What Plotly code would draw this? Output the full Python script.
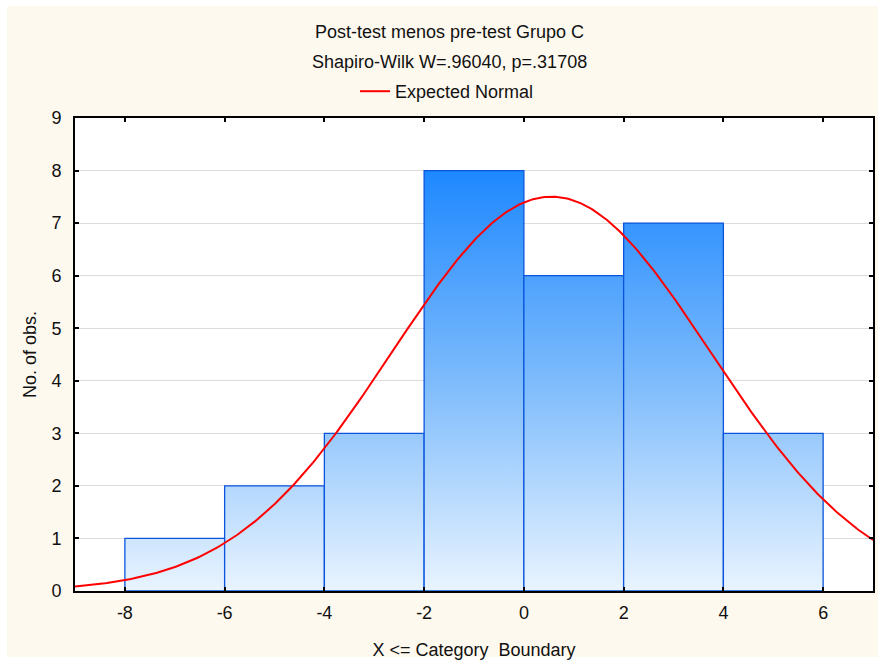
import numpy as np
import plotly.graph_objects as go

# ---- data ----
bin_left = [-8, -6, -4, -2, 0, 2, 4]
bin_right = [-6, -4, -2, 0, 2, 4, 6]
counts = [1, 2, 3, 8, 6, 7, 3]
x_ticks = [-8, -6, -4, -2, 0, 2, 4, 6]
x_tick_labels = ["-8", "-6", "-4", "-2", "0", "2", "4", "6"]
y_ticks = [0, 1, 2, 3, 4, 5, 6, 7, 8, 9]

# expected normal fit parameters
normal_mean = 0.55
normal_sd = 3.19
bin_width = 2

title_1 = "Post-test menos pre-test Grupo C"
title_2 = "Shapiro-Wilk W=.96040, p=.31708"

FONT = "Liberation Sans, Arial, sans-serif"
FS = 18
CREAM = "#FEF9EF"

fig = go.Figure()

grad = dict(type="vertical", start=0, stop=max(counts),
            colorscale=[[0, "#E9F4FF"], [0.5, "#7DBBFC"], [1, "#1E88FF"]])

for l, r, c in zip(bin_left, bin_right, counts):
    fig.add_trace(go.Scatter(
        x=[l, l, r, r, l], y=[0, c, c, 0, 0],
        mode="lines", fill="toself", fillgradient=grad,
        line=dict(color="#0A55DC", width=1.3),
        showlegend=False, hoverinfo="skip"))

n_total = sum(counts)
xs = np.linspace(-9, 7, 400)
ys = n_total * bin_width / (normal_sd * np.sqrt(2 * np.pi)) * np.exp(-0.5 * ((xs - normal_mean) / normal_sd) ** 2)
fig.add_trace(go.Scatter(x=xs, y=ys, mode="lines", name="Expected Normal",
                         line=dict(color="#FF0000", width=2), showlegend=True))

L, R, T, B = 75, 5, 118, 69
W, H = 878, 660
pw, ph = W - L - R, H - T - B

def px2x(px):
    return (px - L) / pw

def py2y(py):
    return (H - B - py) / ph

fig.update_layout(
    width=W, height=H,
    margin=dict(l=L, r=R, t=T, b=B, pad=0, autoexpand=False),
    paper_bgcolor=CREAM, plot_bgcolor="white",
    font=dict(family=FONT, size=FS, color="#111111"),
    showlegend=True,
    legend=dict(orientation="h", xref="container", yref="container",
                x=355 / W, y=1 - 73 / H, xanchor="left", yanchor="top",
                bgcolor="rgba(0,0,0,0)", font=dict(size=FS, family=FONT),
                itemwidth=30),
    xaxis=dict(range=[-9, 7], tickvals=x_ticks, ticktext=x_tick_labels,
               ticks="inside", ticklen=4, automargin=False,
               tickcolor="black", tickwidth=1.5, showline=True, linecolor="black",
               linewidth=2, mirror="ticks", showgrid=False, zeroline=False,
               ticklabelstandoff=4,
               title=dict(text="X <= Category\u00a0 Boundary", standoff=31,
                          font=dict(size=FS)),
               tickfont=dict(size=FS)),
    yaxis=dict(range=[0, 9], tickvals=y_ticks, ticks="inside", ticklen=4,
               automargin=False,
               tickcolor="black", tickwidth=1.5, showline=True, linecolor="black",
               linewidth=2, mirror="ticks", showgrid=True, gridcolor="#DCDCDC",
               gridwidth=1, zeroline=False, ticklabelstandoff=8,
               title=dict(text="No. of obs.", standoff=10, font=dict(size=FS)),
               tickfont=dict(size=FS)),
    annotations=[
        dict(text=title_1, x=px2x(449), y=py2y(32), xref="paper", yref="paper",
             showarrow=False, xanchor="center", yanchor="middle", font=dict(size=FS)),
        dict(text=title_2, x=px2x(449), y=py2y(62), xref="paper", yref="paper",
             showarrow=False, xanchor="center", yanchor="middle", font=dict(size=FS)),
    ],
    shapes=[
        dict(type="rect", xref="paper", yref="paper", x0=px2x(0), x1=px2x(7),
             y0=py2y(660), y1=py2y(0), fillcolor="white", line=dict(width=0), layer="below"),
        dict(type="rect", xref="paper", yref="paper", x0=px2x(0), x1=px2x(878),
             y0=py2y(6), y1=py2y(0), fillcolor="white", line=dict(width=0), layer="below"),
        dict(type="rect", xref="paper", yref="paper", x0=px2x(0), x1=px2x(878),
             y0=py2y(660), y1=py2y(657), fillcolor="white", line=dict(width=0), layer="below"),
    ],
)

fig.write_html("out.html")
